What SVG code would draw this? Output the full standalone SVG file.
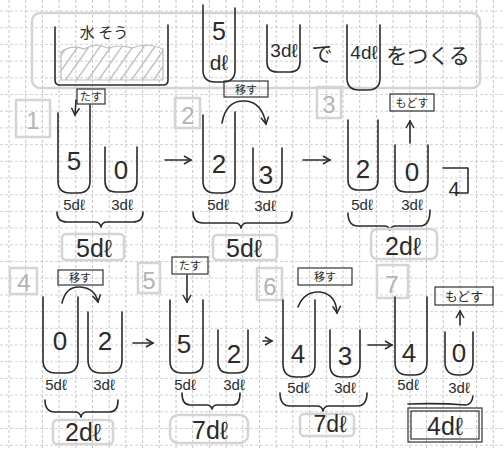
<svg xmlns="http://www.w3.org/2000/svg" width="504" height="450" viewBox="0 0 504 450">
<style>
.ln{fill:none;stroke:#2b2b2b;stroke-width:1.6;stroke-linecap:round;stroke-linejoin:round}
.bx{fill:none;stroke:#333;stroke-width:1.2}
.gb{fill:none;stroke:#d4d4d4;stroke-width:2.5;stroke-linejoin:round}
.gridv{stroke:#b8b8b8;stroke-width:0.8;stroke-dasharray:3 2}
.gridh{stroke:#c8c8c8;stroke-width:0.8;stroke-dasharray:3 2}
text{font-family:"Liberation Sans","Noto Sans CJK JP",sans-serif;fill:#2b2b2b;text-anchor:middle}
.jp{font-family:"Noto Sans CJK JP",sans-serif}
.num{font-size:26px}
.cap{font-size:15px}
.tot{font-size:25px}
.tag{font-size:11px}
.gn{font-size:24px;fill:#b4b4b4}
</style>
<defs>
<marker id="ah" markerWidth="10" markerHeight="10" refX="8" refY="5" orient="auto" markerUnits="userSpaceOnUse">
<path d="M1,1 L8,5 L1,9" fill="none" stroke="#2b2b2b" stroke-width="1.5"/>
</marker>
<pattern id="hatch" width="9" height="9" patternUnits="userSpaceOnUse" patternTransform="rotate(35)">
<line x1="0" y1="0" x2="0" y2="9" stroke="#b5b5b5" stroke-width="2.5"/>
</pattern>
</defs>
<rect width="504" height="450" fill="#ffffff"/>
<g id="grid">
<line class="gridv" x1="9" y1="0" x2="9" y2="450"/><line class="gridv" x1="25.7" y1="0" x2="25.7" y2="450"/><line class="gridv" x1="42.4" y1="0" x2="42.4" y2="450"/><line class="gridv" x1="59.1" y1="0" x2="59.1" y2="450"/><line class="gridv" x1="75.8" y1="0" x2="75.8" y2="450"/><line class="gridv" x1="92.5" y1="0" x2="92.5" y2="450"/><line class="gridv" x1="109.2" y1="0" x2="109.2" y2="450"/><line class="gridv" x1="125.9" y1="0" x2="125.9" y2="450"/><line class="gridv" x1="142.6" y1="0" x2="142.6" y2="450"/><line class="gridv" x1="159.3" y1="0" x2="159.3" y2="450"/><line class="gridv" x1="176" y1="0" x2="176" y2="450"/><line class="gridv" x1="192.7" y1="0" x2="192.7" y2="450"/><line class="gridv" x1="209.4" y1="0" x2="209.4" y2="450"/><line class="gridv" x1="226.1" y1="0" x2="226.1" y2="450"/><line class="gridv" x1="242.8" y1="0" x2="242.8" y2="450"/><line class="gridv" x1="259.5" y1="0" x2="259.5" y2="450"/><line class="gridv" x1="276.2" y1="0" x2="276.2" y2="450"/><line class="gridv" x1="292.9" y1="0" x2="292.9" y2="450"/><line class="gridv" x1="309.6" y1="0" x2="309.6" y2="450"/><line class="gridv" x1="326.3" y1="0" x2="326.3" y2="450"/><line class="gridv" x1="343" y1="0" x2="343" y2="450"/><line class="gridv" x1="359.7" y1="0" x2="359.7" y2="450"/><line class="gridv" x1="376.4" y1="0" x2="376.4" y2="450"/><line class="gridv" x1="393.1" y1="0" x2="393.1" y2="450"/><line class="gridv" x1="409.8" y1="0" x2="409.8" y2="450"/><line class="gridv" x1="426.5" y1="0" x2="426.5" y2="450"/><line class="gridv" x1="443.2" y1="0" x2="443.2" y2="450"/><line class="gridv" x1="459.9" y1="0" x2="459.9" y2="450"/><line class="gridv" x1="476.6" y1="0" x2="476.6" y2="450"/><line class="gridv" x1="493.3" y1="0" x2="493.3" y2="450"/>
<line class="gridh" x1="0" y1="11" x2="504" y2="11"/><line class="gridh" x1="0" y1="27.7" x2="504" y2="27.7"/><line class="gridh" x1="0" y1="44.4" x2="504" y2="44.4"/><line class="gridh" x1="0" y1="61.1" x2="504" y2="61.1"/><line class="gridh" x1="0" y1="77.8" x2="504" y2="77.8"/><line class="gridh" x1="0" y1="94.5" x2="504" y2="94.5"/><line class="gridh" x1="0" y1="111.2" x2="504" y2="111.2"/><line class="gridh" x1="0" y1="127.9" x2="504" y2="127.9"/><line class="gridh" x1="0" y1="144.6" x2="504" y2="144.6"/><line class="gridh" x1="0" y1="161.3" x2="504" y2="161.3"/><line class="gridh" x1="0" y1="178" x2="504" y2="178"/><line class="gridh" x1="0" y1="194.7" x2="504" y2="194.7"/><line class="gridh" x1="0" y1="211.4" x2="504" y2="211.4"/><line class="gridh" x1="0" y1="228.1" x2="504" y2="228.1"/><line class="gridh" x1="0" y1="244.8" x2="504" y2="244.8"/><line class="gridh" x1="0" y1="261.5" x2="504" y2="261.5"/><line class="gridh" x1="0" y1="278.2" x2="504" y2="278.2"/><line class="gridh" x1="0" y1="294.9" x2="504" y2="294.9"/><line class="gridh" x1="0" y1="311.6" x2="504" y2="311.6"/><line class="gridh" x1="0" y1="328.3" x2="504" y2="328.3"/><line class="gridh" x1="0" y1="345" x2="504" y2="345"/><line class="gridh" x1="0" y1="361.7" x2="504" y2="361.7"/><line class="gridh" x1="0" y1="378.4" x2="504" y2="378.4"/><line class="gridh" x1="0" y1="395.1" x2="504" y2="395.1"/><line class="gridh" x1="0" y1="411.8" x2="504" y2="411.8"/><line class="gridh" x1="0" y1="428.5" x2="504" y2="428.5"/><line class="gridh" x1="0" y1="445.2" x2="504" y2="445.2"/>
</g>

<g id="title">
<rect class="gb" x="32" y="13" width="448" height="75" rx="8"/>
<g id="tank">
<path d="M61 52 Q72 44 84 49 Q96 42 108 48 Q120 44 132 48 Q146 42 163 49 V80 H61 Z" fill="url(#hatch)" stroke="#bdbdbd" stroke-width="1.2"/>
<path class="ln" d="M55 27 V80 Q55 85 60 85 H163 Q168 85 168 80 V25"/>
<text x="104" y="38" class="jp" style="font-size:15px">水 そう</text>
</g>
<g id="jug5">
<path class="ln" d="M203 5 V70 Q203 82 215 82 H223 Q235 82 235 70 V8"/>
<text x="219" y="40" style="font-size:25px">5</text>
<text x="219" y="70" style="font-size:21px">dℓ</text>
</g>
<g id="jug3">
<path class="ln" d="M267 25 V62 Q267 72 277 72 H290 Q300 72 300 62 V25"/>
<text x="284" y="57" style="font-size:19px">3dℓ</text>
</g>
<text x="322" y="61" class="jp" style="font-size:21px">で</text>
<g id="jug4">
<path class="ln" d="M347 25 V78 Q347 90 359 90 H368 Q380 90 380 78 V25"/>
<text x="364" y="59" style="font-size:19px">4dℓ</text>
</g>
<text x="428" y="63" class="jp" style="font-size:21px">をつくる</text>
</g>

<g id="step1">
<rect class="gb" x="16" y="100" width="34" height="37"/>
<text x="33" y="129" class="gn">1</text>
<rect class="bx" x="77" y="89" width="28" height="15"/>
<text x="91" y="101" class="jp tag">たす</text>
<path class="ln" d="M58 113 V181 Q58 193 70 193 H78 Q90 193 90 181 V105"/>
<path class="ln" d="M105 147 V181 Q105 192 116 192 H126 Q137 192 137 181 V147"/>
<text x="74" y="170" class="num">5</text>
<text x="121" y="179" class="num">0</text>
<text x="74" y="210" class="cap">5dℓ</text>
<text x="122" y="210" class="cap">3dℓ</text>
<path class="ln" d="M57 212 Q57 222 67 222 H95 Q100 222 101 227 Q102 222 107 222 H133 Q143 222 143 212"/>
<rect class="gb" x="62" y="234" width="62" height="26" rx="4"/>
<text x="94" y="257" class="tot">5dℓ</text>
</g>

<g id="step2">
<rect class="gb" x="175" y="98" width="25" height="30"/>
<text x="188" y="124" class="gn">2</text>
<rect class="bx" x="224" y="81" width="44" height="16"/>
<text x="246" y="94" class="jp tag">移す</text>
<path class="ln" d="M203 115 V181 Q203 193 215 193 H223 Q235 193 235 181 V112"/>
<path class="ln" d="M253 148 V181 Q253 192 264 192 H271 Q282 192 282 181 V148"/>
<text x="219" y="173" class="num">2</text>
<text x="266" y="184" class="num">3</text>
<text x="218" y="210" class="cap">5dℓ</text>
<text x="265" y="211" class="cap">3dℓ</text>
<path class="ln" d="M193 212 Q193 223 203 223 H235 Q240 223 241 228 Q242 223 247 223 H282 Q292 223 292 212"/>
<rect class="gb" x="213" y="235" width="64" height="25" rx="4"/>
<text x="244" y="257" class="tot">5dℓ</text>
</g>

<g id="step3">
<rect class="gb" x="317" y="87" width="24" height="31"/>
<text x="329" y="113" class="gn">3</text>
<rect class="bx" x="390" y="94" width="44" height="17"/>
<text x="412" y="107" class="jp tag">もどす</text>
<path class="ln" d="M348 120 V180 Q348 190 358 190 H368 Q378 190 378 180 V120"/>
<path class="ln" d="M395 145 V181 Q395 192 406 192 H417 Q428 192 428 181 V145"/>
<text x="363" y="178" class="num">2</text>
<text x="412" y="181" class="num">0</text>
<text x="362" y="210" class="cap">5dℓ</text>
<text x="412" y="210" class="cap">3dℓ</text>
<path class="ln" d="M348 213 Q348 226 358 226 H384 Q389 226 390 230 Q391 226 396 226 H420 Q430 226 430 210"/>
<rect class="gb" x="371" y="229" width="66" height="30" rx="6"/>
<text x="403" y="255" class="tot">2dℓ</text>
<path class="ln" d="M443 168 H468 V193 H455"/>
<text x="454" y="196" style="font-size:20px">4</text>
</g>

<g id="step4">
<rect class="gb" x="10" y="268" width="27" height="26"/>
<text x="24" y="291" class="gn">4</text>
<rect class="bx" x="58" y="270" width="45" height="15"/>
<text x="80" y="282" class="jp tag">移す</text>
<path class="ln" d="M43 297 V360 Q43 373 56 373 H65 Q78 373 78 360 V297"/>
<path class="ln" d="M88 312 V360 Q88 373 101 373 H109 Q122 373 122 360 V312"/>
<text x="60" y="350" class="num">0</text>
<text x="105" y="350" class="num">2</text>
<text x="56" y="390" class="cap">5dℓ</text>
<text x="104" y="390" class="cap">3dℓ</text>
<path class="ln" d="M45 400 Q45 412 55 412 H75 Q80 412 81 417 Q82 412 87 412 H110 Q118 412 118 400"/>
<rect class="gb" x="53" y="420" width="60" height="24" rx="4"/>
<text x="83" y="441" class="tot">2dℓ</text>
</g>

<g id="step5">
<rect class="gb" x="138" y="263" width="22" height="30"/>
<text x="149" y="289" class="gn">5</text>
<rect class="bx" x="172" y="257" width="36" height="17"/>
<text x="190" y="270" class="jp tag">たす</text>
<path class="ln" d="M170 300 V361 Q170 373 182 373 H191 Q203 373 203 361 V300"/>
<path class="ln" d="M218 330 V362 Q218 373 229 373 H237 Q248 373 248 362 V330"/>
<text x="184" y="353" class="num">5</text>
<text x="234" y="363" class="num">2</text>
<text x="185" y="390" class="cap">5dℓ</text>
<text x="234" y="390" class="cap">3dℓ</text>
<path class="ln" d="M182 393 Q182 405 190 405 H207 Q211 405 212 409 Q213 405 217 405 H233 Q240 405 240 393"/>
<rect class="gb" x="170" y="415" width="78" height="28" rx="8"/>
<text x="210" y="439" class="tot">7dℓ</text>
</g>

<g id="step6">
<rect class="gb" x="257" y="268" width="25" height="32"/>
<text x="270" y="295" class="gn">6</text>
<rect class="bx" x="298" y="268" width="54" height="17"/>
<text x="325" y="281" class="jp tag">移す</text>
<path class="ln" d="M283 300 V364 Q283 377 296 377 H302 Q315 377 315 364 V300"/>
<path class="ln" d="M330 330 V365 Q330 377 342 377 H348 Q360 377 360 365 V330"/>
<text x="298" y="363" class="num">4</text>
<text x="345" y="365" class="num">3</text>
<text x="298" y="393" class="cap">5dℓ</text>
<text x="345" y="393" class="cap">3dℓ</text>
<path class="ln" d="M280 393 Q280 406 290 406 H317 Q322 406 323 411 Q324 406 329 406 H357 Q367 406 367 393"/>
<rect class="gb" x="300" y="414" width="54" height="22" rx="4"/>
<text x="330" y="432" class="tot" style="font-size:23px">7dℓ</text>
</g>

<g id="step7">
<rect class="gb" x="377" y="265" width="31" height="33"/>
<text x="392" y="293" class="gn">7</text>
<rect class="bx" x="435" y="287" width="58" height="18"/>
<text x="464" y="301" class="jp" style="font-size:13px">もどす</text>
<path class="ln" d="M395 297 V362 Q395 375 408 375 H414 Q427 375 427 362 V297"/>
<path class="ln" d="M445 332 V362 Q445 375 458 375 H460 Q473 375 473 362 V332"/>
<text x="409" y="362" class="num">4</text>
<text x="459" y="362" class="num">0</text>
<text x="408" y="390" class="cap">5dℓ</text>
<text x="459" y="393" class="cap">3dℓ</text>
<path class="ln" d="M408 404 Q440 403 466 405 Q472 404 473 396"/>
<rect class="bx" x="408" y="408" width="74" height="34"/>
<rect class="bx" x="411" y="411" width="68" height="28"/>
<text x="445" y="435" class="tot">4dℓ</text>
</g>

<g id="connectors">
<path class="ln" d="M76 100 L75 115" marker-end="url(#ah)"/>
<path class="ln" d="M165 160 H191" marker-end="url(#ah)"/>
<path class="ln" d="M222 123 Q226 100 245 101 Q262 102 266 124" marker-end="url(#ah)"/>
<path class="ln" d="M303 160 H330" marker-end="url(#ah)"/>
<path class="ln" d="M410 143 V121" marker-end="url(#ah)"/>
<path class="ln" d="M62 303 Q66 286 80 287 Q95 288 98 302" marker-end="url(#ah)"/>
<path class="ln" d="M133 343 H153" marker-end="url(#ah)"/>
<path class="ln" d="M187 275 V302" marker-end="url(#ah)"/>
<path class="ln" d="M263 341 H272" marker-end="url(#ah)"/>
<path class="ln" d="M298 307 Q304 291 320 292 Q336 294 337 313" marker-end="url(#ah)"/>
<path class="ln" d="M368 345 H392" marker-end="url(#ah)"/>
<path class="ln" d="M460 325 V311" marker-end="url(#ah)"/>
</g>
</svg>
